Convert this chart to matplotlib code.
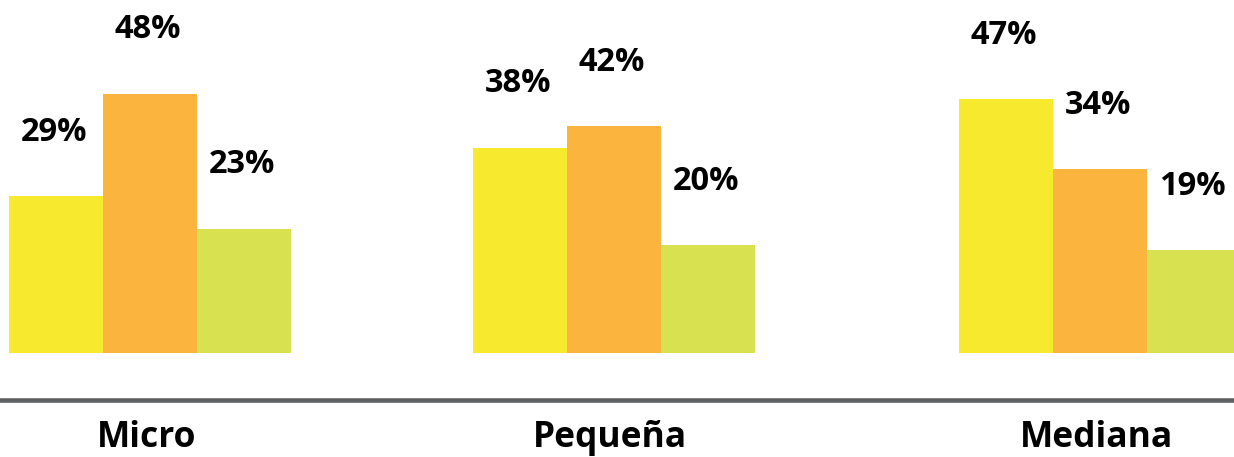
import numpy as np
import matplotlib.pyplot as plt
import matplotlib.transforms as mtransforms

plt.rcParams['font.family'] = ['Open Sans', 'DejaVu Sans']

# Datos: porcentaje por tamaño de empresa
categorias = ['Micro', 'Pequeña', 'Mediana']
serie_a = [29, 38, 47]
serie_b = [48, 42, 34]
serie_c = [23, 20, 19]

colores = ['#F7E92E', '#FBB53E', '#D8E14F']

fig = plt.figure(figsize=(12.34, 4.57), dpi=100)
ax = fig.add_axes([0, 0, 1, 1])

# posición de cada grupo en el eje x
x = np.array([0.0, 0.977, 2.0])
ancho = 0.198

for i, (serie, color) in enumerate(zip([serie_a, serie_b, serie_c], colores)):
    pos = x + (i - 1) * ancho
    ax.bar(pos, serie, width=ancho, color=color, linewidth=0, zorder=2 + (i == 1))
    for xi, v in zip(pos, serie):
        ax.annotate(f'{v}%', (xi, v), xytext=(-1.5, 46), textcoords='offset points',
                    ha='center', va='center', fontsize=23.5, fontweight='bold',
                    color='black')

# escala vertical: ~5.4 px por punto porcentual, base a 104 px del borde inferior
ax.set_xlim(-0.316, 2.282)
ax.set_ylim(-19.24, 65.31)

# línea gris bajo las barras
ax.axhline(-8.7, color='#5d5f61', linewidth=3.3, zorder=1)

# nombres de categoría
trans = mtransforms.blended_transform_factory(ax.transData, fig.transFigure)
for xi, cat in zip(x, categorias):
    ax.text(xi - 0.008, 0.022, cat, transform=trans, ha='center', va='baseline',
            fontsize=25.5, fontweight='bold', color='black')

ax.axis('off')

fig.savefig('out.png', dpi=100, facecolor='white')
